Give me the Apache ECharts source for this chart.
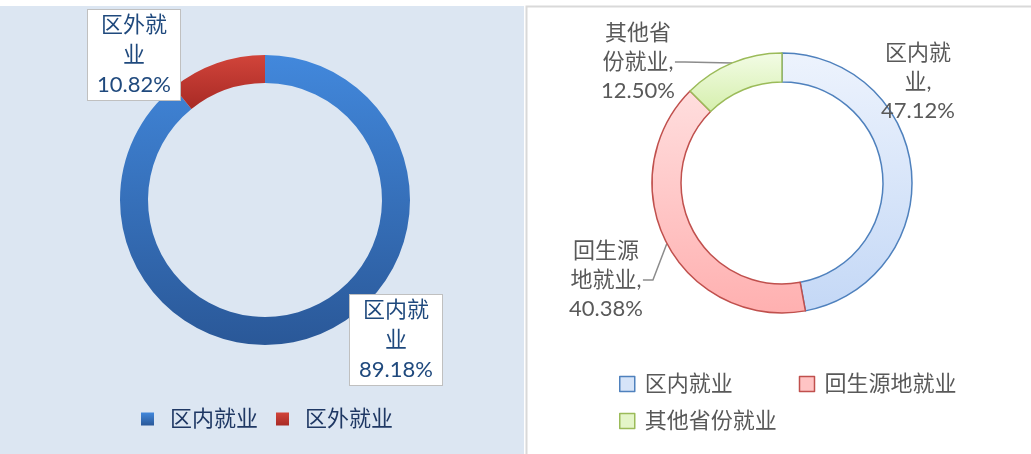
<!DOCTYPE html>
<html><head><meta charset="utf-8">
<script src="https://cdn.jsdelivr.net/npm/echarts@6/dist/echarts.min.js"></script>
<style>html,body{margin:0;padding:0;background:#fff}#c{width:1031px;height:454px}</style>
</head><body><div id="c"></div>
<script>
// Left chart data
const leftNames = ['区内就业', '区外就业'];
const leftValues = [89.18, 10.82];
// Right chart data
const rightNames = ['区内就业', '回生源地就业', '其他省份就业'];
const rightValues = [47.12, 40.38, 12.50];

const FONT = "Lato, 'Noto Sans CJK SC', sans-serif";
const grad = (a, b) => new echarts.graphic.LinearGradient(0, 0, 0, 1, [{offset: 0, color: a}, {offset: 1, color: b}]);
const leftColors = [grad('#4288dc', '#2a5898'), grad('#d1443a', '#a82a25')];
const rightFill = [grad('#edf3fd', '#c4d8f6'), grad('#ffdede', '#ffb0b0'), grad('#f3fce6', '#d5efac')];
const rightBorder = ['#4f81bd', '#c0504d', '#9bbb59'];
const rightLegendFill = ['#d6e4f8', '#ffc4c4', '#e4f5c8'];

const split3 = s => s.match(/.{1,3}/g).join('\n');
const leftLabelPos = [[396, 340], [134, 55]];
const rightLabelPos = [[918, 82], [606, 280], [638, 62]];

const chart = echarts.init(document.getElementById('c'), null, {renderer: 'canvas'});
chart.setOption({
  animation: false,
  graphic: [
    {type: 'rect', shape: {x: 0, y: 6, width: 524, height: 448}, style: {fill: '#dce6f2'}, z: -10},
    {type: 'rect', shape: {x: 526.5, y: 6.5, width: 510, height: 460}, style: {fill: '#fff', stroke: '#d9d9d9', lineWidth: 2}, z: -10}
  ],
  legend: [
    {
      data: leftNames, left: 136, top: 403, icon: 'rect', itemWidth: 13, itemHeight: 13, itemGap: 18,
      textStyle: {fontSize: 22, color: '#1f3864', fontFamily: FONT, padding: [0, 0, 0, 11]}
    },
    {
      data: rightNames.slice(0, 2).map((n, i) => ({name: n, itemStyle: {color: rightLegendFill[i], borderColor: rightBorder[i], borderWidth: 1.5}})),
      left: 614, top: 368, icon: 'rect', itemWidth: 15, itemHeight: 15, itemGap: 66,
      textStyle: {fontSize: 22, color: '#595959', fontFamily: FONT, padding: [0, 0, 0, 5]}
    },
    {
      data: rightNames.slice(2).map((n, i) => ({name: n, itemStyle: {color: rightLegendFill[i + 2], borderColor: rightBorder[i + 2], borderWidth: 1.5}})),
      left: 614, top: 405, icon: 'rect', itemWidth: 15, itemHeight: 15,
      textStyle: {fontSize: 22, color: '#595959', fontFamily: FONT, padding: [0, 0, 0, 5]}
    }
  ],
  series: [
    {
      type: 'pie', center: [265, 200], radius: [117, 145], startAngle: 90, clockwise: true,
      data: leftNames.map((n, i) => ({name: n, value: leftValues[i], itemStyle: {color: leftColors[i]}})),
      label: {
        formatter: p => split3(p.name) + '\n' + p.value.toFixed(2) + '%',
        fontSize: 22, lineHeight: 30, color: '#1f497d', fontFamily: FONT,
        backgroundColor: '#fff', borderColor: '#c0c0c0', borderWidth: 1,
        width: 84, padding: [0, 4, 0, 4], align: 'center'
      },
      labelLine: {show: false},
      labelLayout: p => ({x: leftLabelPos[p.dataIndex][0], y: leftLabelPos[p.dataIndex][1], align: 'center', verticalAlign: 'middle'}),
      emphasis: {disabled: true}
    },
    {
      type: 'pie', center: [782, 183], radius: [101, 130], startAngle: 90, clockwise: true,
      data: rightNames.map((n, i) => ({name: n, value: rightValues[i], itemStyle: {color: rightFill[i], borderColor: rightBorder[i], borderWidth: 1.5}, labelLine: {show: i !== 0}})),
      label: {
        formatter: p => split3(p.name) + ',\n' + p.value.toFixed(2) + '%',
        fontSize: 22, lineHeight: 29, color: '#595959', fontFamily: FONT, align: 'center'
      },
      labelLine: {show: true, lineStyle: {color: '#8c8c8c', width: 1.5}, length: 8, length2: 10},
      labelLayout: p => ({x: rightLabelPos[p.dataIndex][0], y: rightLabelPos[p.dataIndex][1], align: 'center', verticalAlign: 'middle'}),
      emphasis: {disabled: true}
    }
  ]
});
</script></body></html>
